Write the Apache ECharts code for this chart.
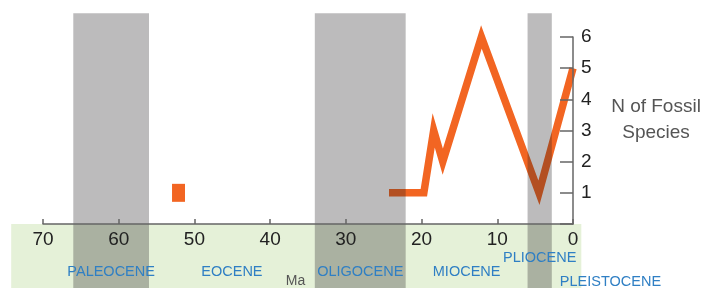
<!DOCTYPE html>
<html>
<head>
<meta charset="utf-8">
<script src="https://cdn.jsdelivr.net/npm/echarts@6/dist/echarts.min.js"></script>
<style>
  html, body { margin: 0; padding: 0; background: #fff; }
  #chart { width: 715px; height: 288px; }
</style>
</head>
<body>
<div id="chart"></div>
<script>
// fossil record (Ma, number of species)
const speciesAges = [24.3, 19.7, 18.4, 17.2, 12.1, 4.5, 0];
const speciesCounts = [1, 1, 3, 2, 6, 1, 5];
const isolatedAges = [52.1];
const isolatedCounts = [1];

// epochs (Ma)
const epochNames = ["PALEOCENE", "EOCENE", "OLIGOCENE", "MIOCENE", "PLIOCENE", "PLEISTOCENE"];
const epochStart = [66, 56, 34.1, 22.1, 6.0, 2.8];
const epochEnd = [56, 34.1, 22.1, 6.0, 2.8, 0];
const shadedEpochs = ["PALEOCENE", "OLIGOCENE", "PLIOCENE"];

// extent of the green timescale strip
const stripAges = [74.2, -1.1];

const FONT = "'Liberation Sans', Arial, sans-serif";
const chart = echarts.init(document.getElementById("chart"));

const lineData = speciesAges.map((a, i) => [a, speciesCounts[i]]);
const dotData = isolatedAges.map((a, i) => [a, isolatedCounts[i]]);
const bandData = epochNames
  .map((n, i) => [epochStart[i], epochEnd[i], n])
  .filter((d) => shadedEpochs.includes(d[2]));
const labelData = epochNames.map((n, i) => [epochStart[i], epochEnd[i], i]);

const option = {
  animation: false,
  grid: { left: 43, right: 142, top: 37, bottom: 64, containLabel: false, outerBoundsMode: "none" },
  xAxis: {
    type: "value",
    z: 10,
    min: 0,
    max: 70,
    interval: 10,
    inverse: true,
    axisLine: { show: true, lineStyle: { color: "#666", width: 1.5 } },
    axisTick: { show: true, inside: true, length: 5, lineStyle: { color: "#666", width: 1.5 } },
    axisLabel: { color: "#222", fontSize: 19, margin: 6, fontFamily: FONT },
    splitLine: { show: false },
    name: "Ma",
    nameLocation: "middle",
    nameGap: 50,
    nameTextStyle: { color: "#555", fontSize: 14, fontFamily: FONT, padding: [0, 25, 0, 0] },
  },
  yAxis: {
    type: "value",
    z: 10,
    position: "right",
    min: 0,
    max: 6,
    interval: 1,
    axisLine: { show: true, onZero: false, lineStyle: { color: "#666", width: 1.5 } },
    axisTick: { show: true, inside: true, length: 13, lineStyle: { color: "#666", width: 1.5 } },
    axisLabel: {
      color: "#222",
      fontSize: 19,
      margin: 8,
      fontFamily: FONT,
      formatter: (v) => (v === 0 ? "" : v),
    },
    splitLine: { show: false },
    // trailing spacer line lifts the two-line title above the axis middle
    name: "{t|N of Fossil}\n{t|Species}\n{gap|}",
    nameLocation: "middle",
    nameRotate: 0,
    nameGap: 83,
    nameTextStyle: {
      align: "center",
      verticalAlign: "middle",
      rich: {
        t: { color: "#555", fontSize: 19, fontFamily: FONT, lineHeight: 26, align: "center" },
        gap: { fontSize: 10, lineHeight: 21 },
      },
    },
  },
  series: [
    {
      // green timescale strip
      type: "custom",
      z: -1,
      clip: false,
      silent: true,
      data: [stripAges],
      renderItem: (params, api) => {
        const p0 = api.coord([api.value(0), 0]);
        const p1 = api.coord([api.value(1), 0]);
        return {
          type: "rect",
          shape: { x: p0[0], y: p0[1], width: p1[0] - p0[0], height: api.getHeight() - p0[1] },
          style: { fill: "#e5f1d8" },
        };
      },
    },
    {
      type: "line",
      data: lineData,
      symbol: "none",
      clip: false,
      z: 2,
      lineStyle: { color: "#f26522", width: 7.5, join: "miter", cap: "butt", miterLimit: 20 },
    },
    {
      type: "scatter",
      data: dotData,
      symbol: "rect",
      symbolSize: [13, 18],
      z: 2,
      itemStyle: { color: "#f26522", opacity: 1 },
    },
    {
      // shaded epochs
      type: "custom",
      z: 5,
      clip: false,
      silent: true,
      data: bandData,
      renderItem: (params, api) => {
        const p0 = api.coord([api.value(0), 6.76]);
        const p1 = api.coord([api.value(1), 6.76]);
        return {
          type: "rect",
          shape: { x: p0[0], y: p0[1], width: p1[0] - p0[0], height: api.getHeight() - p0[1] },
          style: { fill: "rgba(32, 29, 32, 0.3)" },
        };
      },
    },
    {
      // epoch names
      type: "custom",
      z: 6,
      clip: false,
      silent: true,
      data: labelData,
      renderItem: (params, api) => {
        const i = api.value(2);
        const s = api.value(0);
        const e = api.value(1);
        const base = api.coord([(s + e) / 2, 0]);
        let x = base[0];
        let y = base[1] + 48;
        let align = "center";
        if (epochNames[i] === "PLIOCENE") {
          y = base[1] + 34;
        } else if (epochNames[i] === "PLEISTOCENE") {
          x = api.coord([s, 0])[0] + 8;
          y = base[1] + 58;
          align = "left";
        }
        return {
          type: "text",
          x: x,
          y: y,
          style: {
            text: epochNames[i],
            fill: "#2f7fc4",
            fontSize: 14.5,
            fontFamily: FONT,
            align: align,
            verticalAlign: "middle",
          },
        };
      },
    },
  ],
};

chart.setOption(option);
</script>
</body>
</html>
